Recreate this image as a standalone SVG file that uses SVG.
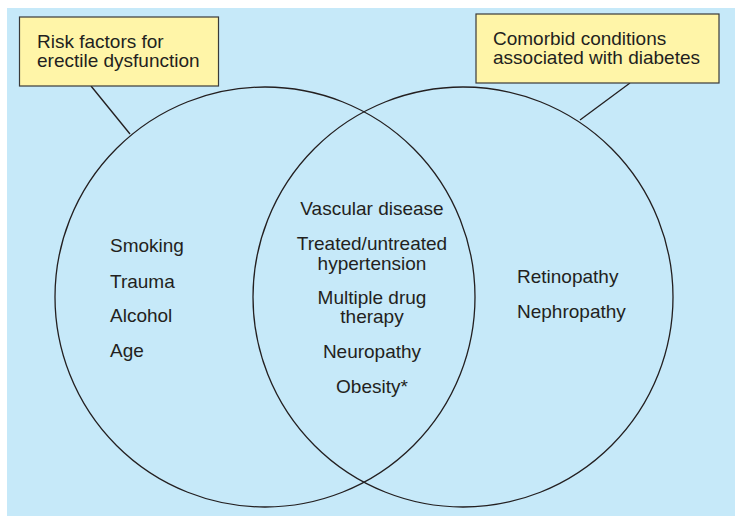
<svg xmlns="http://www.w3.org/2000/svg" width="735" height="516" viewBox="0 0 735 516">
<style>
text{font-family:"Liberation Sans",Arial,sans-serif;font-size:19px;fill:#231f20}
.c{text-anchor:middle}
.circ{fill:none;stroke:#231f20;stroke-width:1.3}
.box{fill:#fff5a8;stroke:#3a3a3a;stroke-width:1.2}
.ln{stroke:#231f20;stroke-width:1.3;fill:none}
</style>
<rect x="7" y="8" width="728" height="508" fill="#c6e9f9"/>
<g id="connectors">
<line class="ln" x1="91" y1="86" x2="130" y2="134"/>
<line class="ln" x1="630" y1="83" x2="580" y2="120"/>
</g>
<g id="left-circle">
<circle class="circ" cx="265" cy="297" r="210"/>
<text x="110" y="252">Smoking</text>
<text x="110" y="288">Trauma</text>
<text x="110" y="322">Alcohol</text>
<text x="110" y="357">Age</text>
</g>
<g id="right-circle">
<circle class="circ" cx="463" cy="297" r="210"/>
<text x="517" y="283">Retinopathy</text>
<text x="517" y="318">Nephropathy</text>
</g>
<g id="overlap">
<text class="c" x="372" y="215">Vascular disease</text>
<text class="c" x="372" y="250">Treated/untreated</text>
<text class="c" x="372" y="270">hypertension</text>
<text class="c" x="372" y="304">Multiple drug</text>
<text class="c" x="372" y="323">therapy</text>
<text class="c" x="372" y="358">Neuropathy</text>
<text class="c" x="372" y="393">Obesity*</text>
</g>
<g id="label-risk">
<rect class="box" x="19.5" y="17" width="199" height="69"/>
<text x="37" y="48">Risk factors for</text>
<text x="37" y="67">erectile dysfunction</text>
</g>
<g id="label-comorbid">
<rect class="box" x="476" y="14" width="243" height="69"/>
<text x="493" y="45">Comorbid conditions</text>
<text x="493" y="64">associated with diabetes</text>
</g>
</svg>
